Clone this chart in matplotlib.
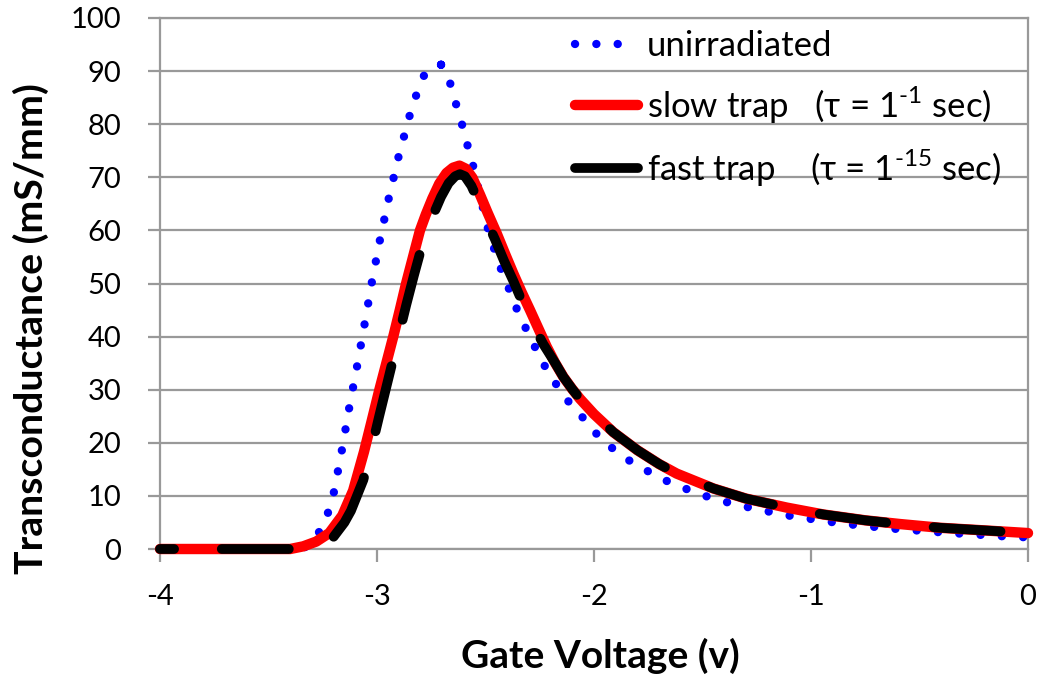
import matplotlib
matplotlib.use('Agg')
import matplotlib.pyplot as plt
import numpy as np
from matplotlib.lines import Line2D

plt.rcParams['font.family'] = ['Lato', 'DejaVu Sans']
plt.rcParams['mathtext.fontset'] = 'custom'
plt.rcParams['mathtext.rm'] = 'Lato'
plt.rcParams['axes.unicode_minus'] = False

# Unirradiated device (blue dotted)
unirr_v = [-4.0, -3.35, -3.30, -3.264, -3.224, -3.198, -3.161, -3.128, -3.091,
           -3.057, -3.023, -2.986, -2.945, -2.900, -2.849, -2.815, -2.782, -2.750,
           -2.725, -2.705, -2.685, -2.662, -2.633, -2.605, -2.579, -2.556, -2.525,
           -2.487, -2.456, -2.425, -2.390, -2.353, -2.310, -2.267, -2.221, -2.169,
           -2.111, -2.046, -1.991, -1.916, -1.839, -1.754, -1.670, -1.581, -1.488,
           -1.396, -1.304, -1.212, -1.120, -1.024, -0.928, -0.836, -0.741, -0.644,
           -0.548, -0.452, -0.359, -0.264, -0.167, -0.068, 0.0]
unirr_gm = [0.0, 0.0, 1.0, 3.4, 7.0, 10.8, 18.8, 26.6, 34.6,
            42.4, 50.4, 58.3, 66.2, 74.0, 81.7, 86.0, 89.3, 90.6,
            91.1, 91.2, 90.2, 87.6, 83.4, 79.5, 75.4, 72.0, 66.5,
            60.0, 56.0, 52.3, 48.8, 44.9, 41.2, 37.6, 34.0, 30.7,
            27.4, 24.5, 21.8, 19.0, 16.7, 14.7, 12.9, 11.4, 10.0,
            8.9, 8.0, 7.2, 6.4, 5.8, 5.2, 4.7, 4.3, 3.9,
            3.6, 3.3, 3.0, 2.8, 2.5, 2.3, 2.2]

# Slow trap (red solid)
slow_v = [-4.0, -3.40, -3.34, -3.28, -3.22, -3.16, -3.11, -3.06, -3.024, -2.989,
          -2.957, -2.925, -2.895, -2.866, -2.834, -2.802, -2.775, -2.745, -2.713,
          -2.680, -2.650, -2.620, -2.590, -2.560, -2.525, -2.490, -2.448, -2.410,
          -2.372, -2.334, -2.295, -2.256, -2.218, -2.180, -2.141, -2.100, -2.065,
          -2.000, -1.911, -1.800, -1.700, -1.619, -1.450, -1.300, -1.112, -0.943,
          -0.750, -0.590, -0.406, -0.200, 0.0]
slow_gm = [0.0, 0.0, 0.5, 1.4, 3.0, 6.3, 11.0, 18.3, 24.2, 30.0,
           35.0, 40.0, 45.0, 50.0, 55.0, 60.0, 63.0, 66.0, 68.8,
           70.8, 71.8, 72.2, 71.6, 69.9, 66.7, 63.3, 59.4, 55.6,
           51.9, 48.4, 45.0, 41.5, 38.1, 35.1, 32.4, 30.1, 28.3,
           25.4, 22.0, 18.6, 16.0, 14.2, 11.4, 9.5, 7.8, 6.5,
           5.4, 4.7, 4.0, 3.5, 3.0]

# Fast trap (black dashed)
fast_v = [-4.0, -3.40, -3.30, -3.25, -3.20, -3.15, -3.12, -3.063, -3.025, -2.990,
          -2.960, -2.927, -2.895, -2.865, -2.830, -2.800, -2.770, -2.740, -2.705,
          -2.670, -2.640, -2.618, -2.595, -2.565, -2.533, -2.495, -2.456, -2.415,
          -2.372, -2.318, -2.275, -2.234, -2.180, -2.141, -2.100, -2.065,
          -2.000, -1.911, -1.800, -1.700, -1.619, -1.450, -1.300, -1.112, -0.943,
          -0.750, -0.590, -0.406, -0.200, 0.0]
fast_gm = [0.0, 0.0, 0.3, 0.9, 2.3, 5.0, 7.2, 13.0, 19.0, 25.0,
           30.0, 35.5, 41.0, 46.0, 51.5, 56.0, 59.8, 63.0, 66.3,
           68.9, 70.2, 70.6, 70.2, 68.4, 65.5, 61.8, 58.3, 54.3,
           50.5, 45.3, 41.8, 38.6, 35.1, 32.4, 30.1, 28.3,
           25.4, 22.0, 18.6, 16.0, 14.2, 11.4, 9.5, 7.8, 6.5,
           5.4, 4.7, 4.0, 3.5, 3.0]

labels = ['unirradiated',
          'slow trap   (τ = 1$^{\\text{-1}}$ sec)',
          'fast trap    (τ = 1$^{\\text{-15}}$ sec)']

x_ticks = [-4, -3, -2, -1, 0]
y_ticks = list(range(0, 101, 10))

GRID = '#999999'
BLUE = '#0000FF'
RED = '#FF0000'
DOT_LW = 6.0
DOT_GAP = 2.55

fig = plt.figure(figsize=(10.38, 6.77), dpi=100)
ax = fig.add_axes([160 / 1038, 1 - 549 / 677, 868 / 1038, 531 / 677])
ax.set_xlim(-4, 0)
ax.set_ylim(0, 100)

# shift the dot pattern so that one dot sits on the peak, as in Excel
pts = ax.transData.transform(np.column_stack([unirr_v, unirr_gm])) * 72 / fig.dpi
seg = np.hypot(*np.diff(pts, axis=0).T)
arc_to_peak = seg[:int(np.argmax(unirr_gm))].sum()
period = (0.01 + DOT_GAP) * DOT_LW
dot_offset = ((-arc_to_peak) % period) / DOT_LW

ax.plot(unirr_v, unirr_gm, color=BLUE, lw=DOT_LW,
        linestyle=(dot_offset, (0.01, DOT_GAP)),
        dash_capstyle='round', zorder=3, clip_on=False)
ax.plot(slow_v, slow_gm, color=RED, lw=7.5, solid_capstyle='round',
        solid_joinstyle='round', zorder=4, clip_on=False)
ax.plot(fast_v, fast_gm, color='black', lw=7.0, linestyle=(5.45, (6.9, 4.9)),
        dash_capstyle='round', dash_joinstyle='round', zorder=5, clip_on=False)

ax.set_xticks(x_ticks)
ax.set_yticks(y_ticks)
ax.yaxis.grid(True, color=GRID, lw=1.6)
ax.set_axisbelow(True)
for s in ax.spines.values():
    s.set_color(GRID)
    s.set_linewidth(1.6)
ax.tick_params(axis='both', colors=GRID, width=1.6, length=9, labelcolor='black',
               labelsize=21)
ax.tick_params(axis='y', pad=19)
ax.tick_params(axis='x', pad=16)

ax.set_xlabel('Gate Voltage (v)', fontsize=28, fontweight='bold')
ax.set_ylabel('Transconductance (mS/mm)', fontsize=28.3, fontweight='bold')
ax.xaxis.set_label_coords(0.507, -0.168)
ax.yaxis.set_label_coords(-0.128, 0.416)

# legend keys: Excel shows the keys as solid bars for the red and black series
handles = [
    Line2D([], [], color=BLUE, lw=DOT_LW, linestyle=(0, (0.01, DOT_GAP)),
           dash_capstyle='round'),
    Line2D([], [], color=RED, lw=7.5, solid_capstyle='round'),
    Line2D([], [], color='black', lw=7.0, solid_capstyle='round'),
]
ax.legend(handles, labels, loc='upper left',
          bbox_to_anchor=((572 - 160) / 868, 1 - 9 / 531), frameon=False,
          fontsize=25, handlelength=1.8, handletextpad=0.25, labelspacing=0.62,
          borderpad=0.1, borderaxespad=0)

fig.savefig('out.png', dpi=100)
